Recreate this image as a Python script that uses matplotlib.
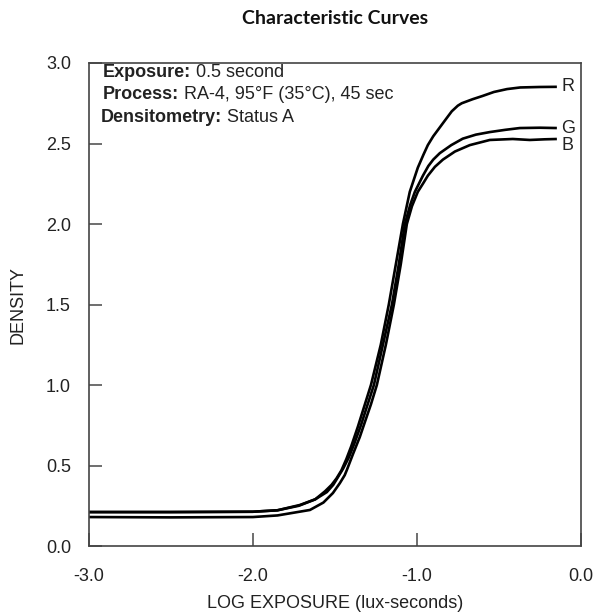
import matplotlib
matplotlib.use('Agg')
import matplotlib.pyplot as plt

# log exposure / density points
r_x = [-3.0, -2.5, -2.0, -1.85, -1.72, -1.62, -1.56, -1.52, -1.49, -1.46, -1.43, -1.40, -1.36, -1.32,
       -1.28, -1.22, -1.171, -1.128, -1.085, -1.043, -0.994, -0.96, -0.933, -0.90, -0.86, -0.82,
       -0.787, -0.75, -0.726, -0.66, -0.60, -0.53, -0.45, -0.37, -0.25, -0.146]
r_y = [0.211, 0.211, 0.213, 0.222, 0.250, 0.290, 0.34, 0.38, 0.42, 0.47, 0.54, 0.62, 0.74, 0.87,
       1.00, 1.25, 1.50, 1.75, 2.00, 2.20, 2.35, 2.43, 2.49, 2.545, 2.60, 2.655,
       2.70, 2.735, 2.75, 2.775, 2.795, 2.82, 2.838, 2.848, 2.851, 2.852]

g_x = [-3.0, -2.5, -2.0, -1.85, -1.713, -1.62, -1.549, -1.51, -1.48, -1.45, -1.415, -1.38, -1.341,
       -1.30, -1.262, -1.207, -1.152, -1.110, -1.073, -1.04, -1.012, -0.963, -0.93, -0.90, -0.86,
       -0.79, -0.72, -0.64, -0.555, -0.46, -0.372, -0.25, -0.146]
g_y = [0.211, 0.211, 0.213, 0.222, 0.255, 0.29, 0.335, 0.38, 0.43, 0.48, 0.55, 0.64, 0.75,
       0.88, 1.00, 1.25, 1.50, 1.75, 2.00, 2.12, 2.20, 2.30, 2.36, 2.40, 2.44,
       2.49, 2.53, 2.555, 2.571, 2.585, 2.596, 2.598, 2.596]

b_x = [-3.0, -2.5, -2.0, -1.85, -1.652, -1.57, -1.512, -1.47, -1.44, -1.427, -1.39, -1.348, -1.317,
       -1.28, -1.244, -1.189, -1.140, -1.098, -1.061, -1.03, -0.994, -0.96, -0.933, -0.89, -0.841,
       -0.768, -0.677, -0.555, -0.415, -0.311, -0.22, -0.146]
b_y = [0.180, 0.178, 0.180, 0.190, 0.224, 0.27, 0.329, 0.39, 0.44, 0.472, 0.57, 0.677, 0.77,
       0.88, 1.00, 1.25, 1.50, 1.75, 2.00, 2.11, 2.20, 2.255, 2.30, 2.355, 2.40,
       2.45, 2.49, 2.522, 2.528, 2.522, 2.526, 2.528]

curves = [('R', r_x, r_y, 0), ('G', g_x, g_y, 0), ('B', b_x, b_y, -5)]

x_ticks = [-3.0, -2.0, -1.0, 0.0]
y_ticks = [0.0, 0.5, 1.0, 1.5, 2.0, 2.5, 3.0]

notes = [('Exposure:', ' 0.5 second'),
         ('Process:', ' RA-4, 95°F (35°C), 45 sec'),
         ('Densitometry:', ' Status A')]

plt.rcParams['font.family'] = ['Liberation Sans', 'DejaVu Sans']

fig = plt.figure(figsize=(6.05, 6.14), dpi=100)
ax = fig.add_axes([0.147, 0.1107, 0.813, 0.7867])

for name, xs, ys, dy in curves:
    ax.plot(xs, ys, color='black', lw=1.9, solid_capstyle='butt', solid_joinstyle='round')
    ax.annotate(name, xy=(xs[-1], ys[-1]), xytext=(3, dy), textcoords='offset points',
                ha='left', va='center', fontsize=13, color='#222222')

ax.set_xlim(-3.0, 0.0)
ax.set_ylim(0.0, 3.0)
ax.set_xticks(x_ticks)
ax.set_yticks(y_ticks)
ax.set_xticklabels(['%.1f' % v for v in x_ticks])
ax.set_yticklabels(['%.1f' % v for v in y_ticks])
ax.tick_params(direction='in', length=9.5, width=1.2, color='#555555', labelsize=13,
               labelcolor='#222222', top=False, right=False)
ax.tick_params(axis='x', pad=16)
ax.tick_params(axis='y', pad=13)
for sp in ax.spines.values():
    sp.set_color('#444444')
    sp.set_linewidth(1.2)

ax.set_xlabel('LOG EXPOSURE (lux-seconds)', fontsize=13, color='#222222', labelpad=7)
ax.set_ylabel('DENSITY', fontsize=13, color='#222222', labelpad=14)

fig.text(0.553, 0.970, 'Characteristic Curves', ha='center', va='center',
         fontsize=14, fontweight='bold', family=['Lato', 'DejaVu Sans'], color='#111111')

ypos = [0.9716, 0.9248, 0.8785]
xpos = [0.029, 0.028, 0.024]
for (lab, val), xx, yy in zip(notes, xpos, ypos):
    t = ax.text(xx, yy, lab, transform=ax.transAxes, fontsize=13, fontweight='bold',
                color='#222222', ha='left', va='baseline')
    ax.annotate(val, xy=(1, 0), xycoords=t, ha='left', va='bottom', fontsize=13, color='#222222')

fig.savefig('out.png', dpi=100)
